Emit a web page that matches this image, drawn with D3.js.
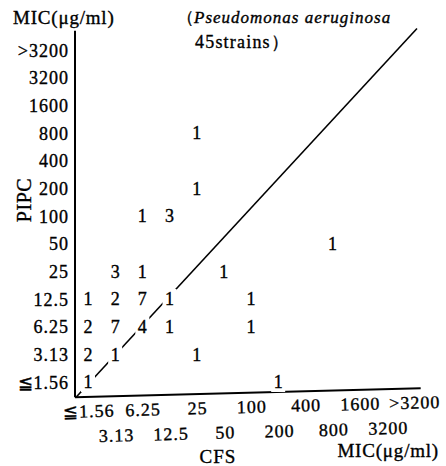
<!DOCTYPE html>
<html><head><meta charset="utf-8">
<script src="https://cdn.jsdelivr.net/npm/d3@7"></script>
<style>
body{margin:0;background:#fff;}
svg{display:block;}
svg text{font-family:"Liberation Serif","DejaVu Serif",serif !important;stroke:#000;stroke-width:0.35px;}
</style></head>
<body><div id="chart"></div>
<script>
// MIC categories (µg/ml), shared by both axes
const micLabels = ["≦1.56","3.13","6.25","12.5","25","50","100","200","400","800","1600","3200",">3200"];
// Cells: [CFS MIC, PIPC MIC, number of strains]
const cells = [
  ["25","800",1],
  ["25","200",1],
  ["6.25","100",1],["12.5","100",3],
  ["800","50",1],
  ["3.13","25",3],["6.25","25",1],["50","25",1],
  ["≦1.56","12.5",1],["3.13","12.5",2],["6.25","12.5",7],["12.5","12.5",1],["100","12.5",1],
  ["≦1.56","6.25",2],["3.13","6.25",7],["6.25","6.25",4],["12.5","6.25",1],["100","6.25",1],
  ["≦1.56","3.13",2],["3.13","3.13",1],["25","3.13",1],
  ["≦1.56","≦1.56",1],["200","≦1.56",1]
];
// Equality reference line, in category-index units
const diagonal = [[-0.44,-0.55],[12.11,12.78]];
const titleLines = ["Pseudomonas aeruginosa","45strains）"];

const W = 446, H = 466;
const svg = d3.select("#chart").append("svg").attr("width",W).attr("height",H);

const idx = d => micLabels.indexOf(d);
const x = d3.scaleLinear().domain([0,12]).range([88,414]);
const y = d3.scaleLinear().domain([0,12]).range([382,50]);

// diagonal line
svg.append("line")
  .attr("x1",x(diagonal[0][0])).attr("y1",y(diagonal[0][1]))
  .attr("x2",x(diagonal[1][0])).attr("y2",y(diagonal[1][1]))
  .attr("stroke","#000").attr("stroke-width",1.6);

// Y axis
const yAxis = d3.axisLeft(d3.scalePoint().domain(micLabels).range([y(0),y(12)]))
  .tickSize(0).tickPadding(0);
const yg = svg.append("g").attr("transform","translate(69,0)").call(yAxis);
yg.select(".domain").remove();
yg.selectAll("text").attr("font-size",18)
  .attr("letter-spacing",1).attr("fill","#000").attr("x",0).attr("dy","0.35em");
svg.append("line").attr("x1",75).attr("x2",75)
  .attr("y1",y(12.7)).attr("y2",y(-0.55))
  .attr("stroke","#000").attr("stroke-width",2);

// X axis (slightly tilted as in the scan)
const xg0 = svg.append("g").attr("transform",`rotate(-1.5,75,${y(-0.55)})`);
xg0.append("line").attr("x1",75).attr("x2",x(12.25))
  .attr("y1",y(-0.55)).attr("y2",y(-0.55))
  .attr("stroke","#000").attr("stroke-width",2);
const xAxis = d3.axisBottom(d3.scalePoint().domain(micLabels).range([x(0),x(12)]))
  .tickSize(0).tickPadding(0);
const xg = xg0.append("g").attr("transform",`translate(0,${y(-0.55)})`).call(xAxis);
xg.select(".domain").remove();
xg.selectAll("text").attr("font-size",18)
  .attr("letter-spacing",1).attr("fill","#000")
  .attr("dy","0.35em")
  .attr("y",(d,i)=> i%2===0 ? 14 : 39);

// cell counts with white knock-out behind
const cg = svg.append("g");
const cell = cg.selectAll("g.cell").data(cells).join("g")
  .attr("transform",d=>`translate(${x(idx(d[0]))},${y(idx(d[1]))})`);
cell.append("rect").attr("x",-7).attr("y",-10).attr("width",14).attr("height",20).attr("fill","#fff");
cell.append("text").text(d=>d[2]).attr("text-anchor","middle").attr("dy","0.35em")
  .attr("font-size",18).attr("fill","#000");

// axis titles
svg.append("text").attr("x",13).attr("y",17).attr("dy","0.35em").attr("font-size",19)
  .attr("letter-spacing",0.8).text("MIC(μg/ml)");
svg.append("text").attr("transform","translate(24,200) rotate(-90)").attr("text-anchor","middle")
  .attr("dy","0.35em").attr("font-size",20).attr("letter-spacing",0.5).text("PIPC");
svg.append("text").attr("x",218).attr("y",456).attr("dy","0.35em").attr("text-anchor","middle")
  .attr("font-size",19).attr("letter-spacing",1).text("CFS");
svg.append("text").attr("x",439).attr("y",450).attr("dy","0.35em").attr("text-anchor","end")
  .attr("font-size",19).attr("letter-spacing",0.8).text("MIC(μg/ml)");

// title
const t1 = svg.append("text").attr("x",185).attr("y",17).attr("dy","0.35em").attr("font-size",17);
t1.append("tspan").text("（").attr("dx",-8);
t1.append("tspan").text(titleLines[0]).attr("font-style","italic").attr("letter-spacing",1);
svg.append("text").attr("x",195).attr("y",42).attr("dy","0.35em").attr("font-size",18)
  .attr("letter-spacing",1.2).text(titleLines[1]);
</script></body></html>
